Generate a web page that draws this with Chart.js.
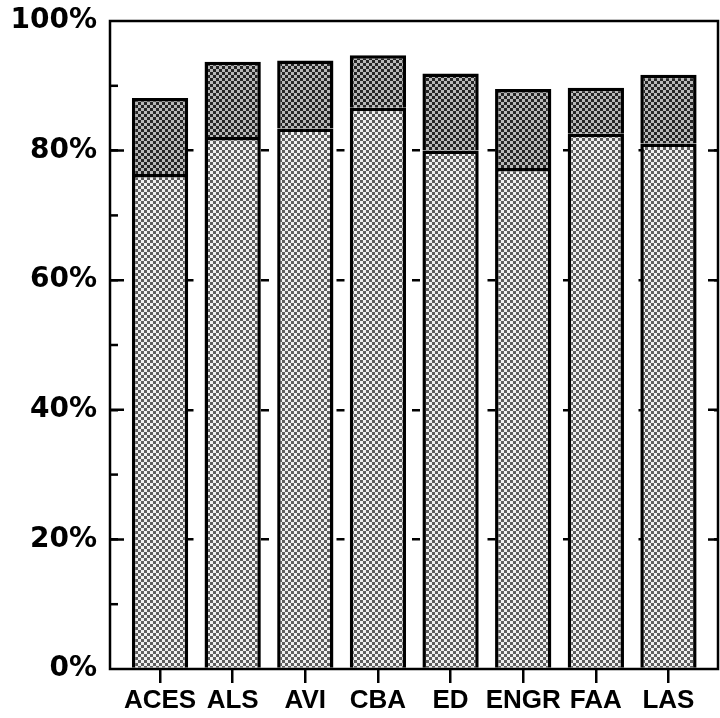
<!DOCTYPE html>
<html>
<head>
<meta charset="utf-8">
<script src="https://cdn.jsdelivr.net/npm/chart.js@4"></script>
<style>
  body { margin: 0; background: #fff; }
</style>
</head>
<body>
<canvas id="graphique" width="720" height="718"></canvas>
<script>
// colleges and the two stacked parts (in %)
var colleges = ['ACES', 'ALS', 'AVI', 'CBA', 'ED', 'ENGR', 'FAA', 'LAS'];
var partBas = [76.4, 82.1, 83.4, 86.6, 80.0, 77.3, 82.6, 81.1];
var partHaut = [11.7, 11.6, 10.5, 8.1, 11.9, 12.2, 7.1, 10.6];
var ticksY = [0, 20, 40, 60, 80, 100];

// halftone-like checker fill
function motif(fonce, clair) {
    var c = document.createElement('canvas');
    c.width = 6; c.height = 6;
    var g = c.getContext('2d');
    g.fillStyle = clair; g.fillRect(0, 0, 6, 6);
    g.fillStyle = fonce;
    g.fillRect(0, 0, 3, 3);
    g.fillRect(3, 3, 3, 3);
    return g.createPattern(c, 'repeat');
}

var ctx = document.getElementById('graphique').getContext('2d');
var motifClair = motif('#5e5e5e', '#f0f0f0');
var motifFonce = motif('#262626', '#b8b8b8');

function points(vals) {
    return vals.map(function(v, i) { return { x: i, y: v }; });
}

// frame + inward ticks like the original
var cadre = {
    id: 'cadre',
    afterDatasetsDraw: function(chart) {
        var a = chart.chartArea, y = chart.scales.y, c = chart.ctx;
        c.save();
        c.strokeStyle = '#000';
        c.lineWidth = 2.5;
        c.strokeRect(a.left, a.top, a.right - a.left, a.bottom - a.top);
        for (var v = 10; v < 100; v += 10) {
            var py = y.getPixelForValue(v);
            var len = (v % 20 === 0) ? 14 : 8;
            c.beginPath();
            c.moveTo(a.left, py); c.lineTo(a.left + len, py);
            if (v % 20 === 0) { c.moveTo(a.right, py); c.lineTo(a.right - 10, py); }
            c.stroke();
        }
        c.restore();
    }
};

new Chart(ctx, {
    type: 'bar',
    data: {
        datasets: [{
            label: 'bas',
            data: points(partBas),
            backgroundColor: motifClair,
            borderColor: '#000',
            borderWidth: 3.5
        }, {
            label: 'haut',
            data: points(partHaut),
            backgroundColor: motifFonce,
            borderColor: '#000',
            borderWidth: 3.5
        }]
    },
    options: {
        responsive: false,
        animation: false,
        layout: { padding: { top: 21, right: 2, left: 0, bottom: 0 } },
        datasets: { bar: { barPercentage: 0.775, categoryPercentage: 1 } },
        plugins: { legend: { display: false }, tooltip: { enabled: false } },
        scales: {
            x: {
                type: 'linear',
                stacked: true,
                offset: false,
                min: -0.689,
                max: 7.682,
                afterFit: function(s) { s.height = 49; s.paddingLeft = 0; s.paddingRight = 0; },
                grid: { offset: false, drawOnChartArea: false, drawTicks: true, tickLength: 14, color: '#000', lineWidth: 2.5 },
                border: { display: false },
                ticks: {
                    stepSize: 1,
                    includeBounds: false,
                    autoSkip: false,
                    maxRotation: 0,
                    padding: 2,
                    color: '#000',
                    font: { family: 'Liberation Sans', size: 26, weight: 'bold' },
                    callback: function(v) { return Number.isInteger(v) ? colleges[v] : ''; }
                }
            },
            y: {
                stacked: true,
                min: 0,
                max: 100,
                afterFit: function(s) { s.width = 110; s.paddingTop = 0; s.paddingBottom = 0; },
                afterBuildTicks: function(s) { s.ticks = ticksY.map(function(v) { return { value: v }; }); },
                grid: {
                    drawTicks: false,
                    lineWidth: 2.5,
                    color: function(c) { return (c.tick && (c.tick.value === 0 || c.tick.value === 100)) ? 'rgba(0,0,0,0)' : '#000'; }
                },
                border: { display: false, dash: [8, 67.5] },
                ticks: {
                    padding: 13,
                    color: '#000',
                    font: { family: 'DejaVu Sans', size: 28, weight: 'bold' },
                    callback: function(v) { return v + '%'; }
                }
            }
        }
    },
    plugins: [cadre]
});
</script>
</body>
</html>
